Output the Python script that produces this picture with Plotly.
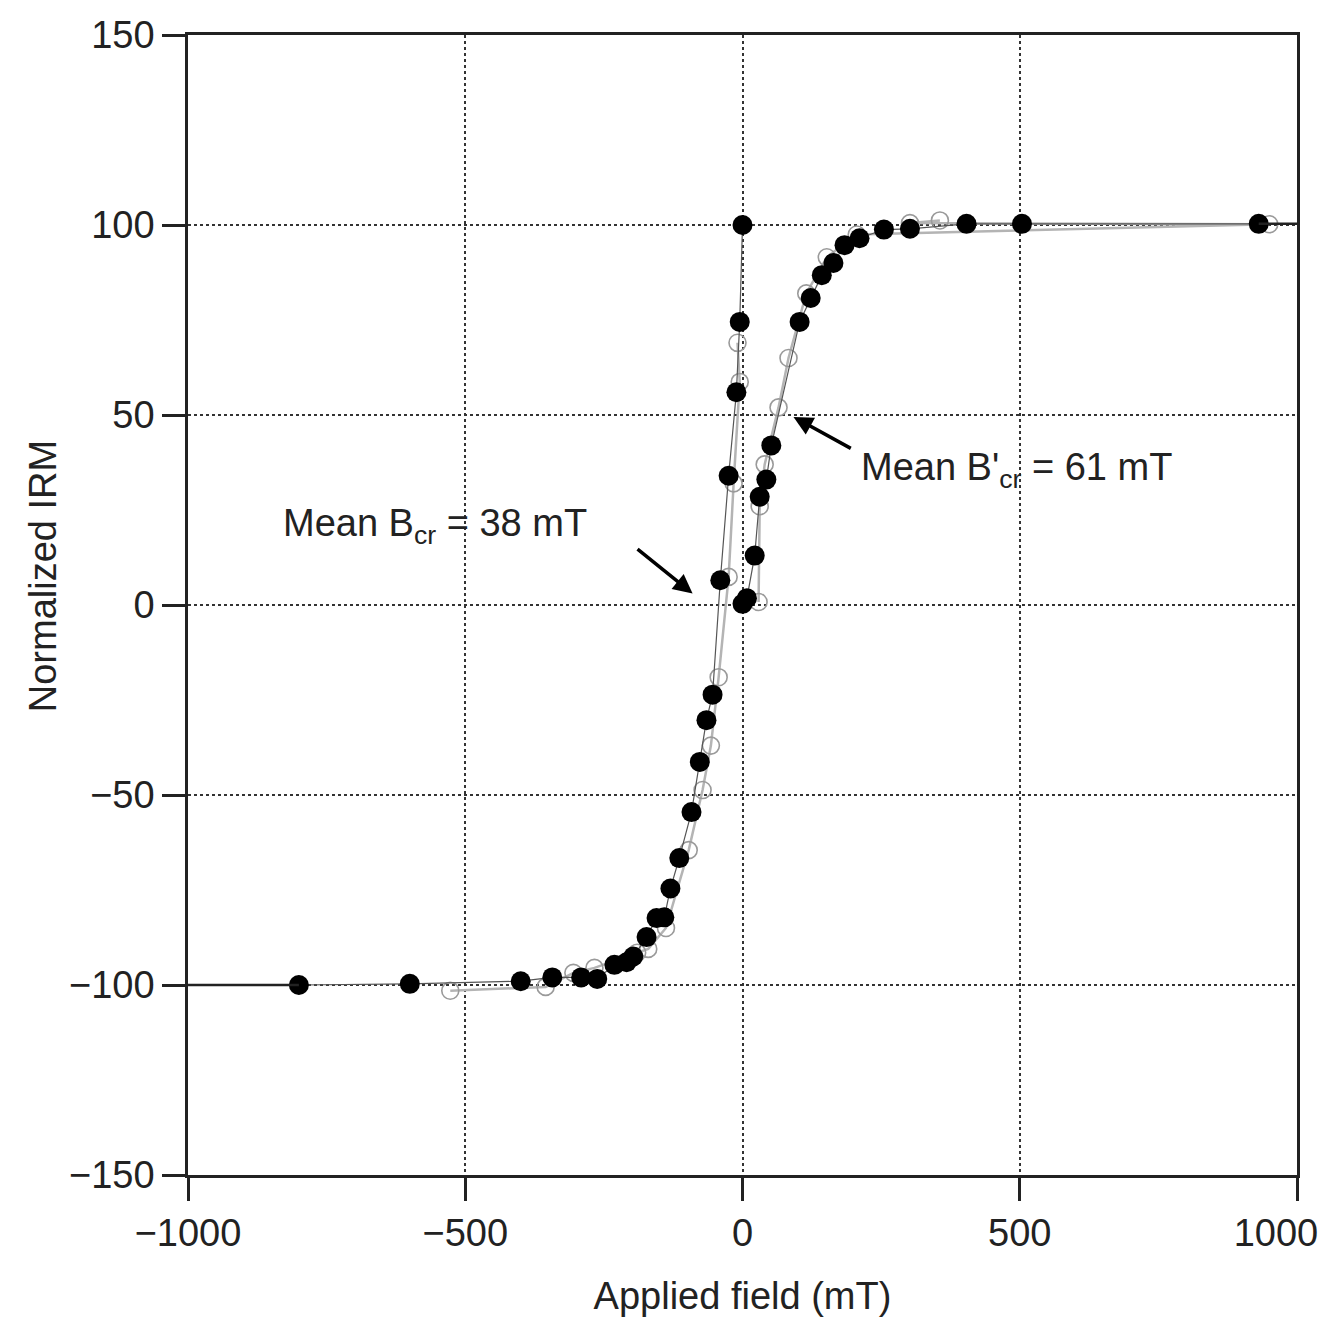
import plotly.graph_objects as go

# Backfield demagnetisation curve (left branch), solid symbols
back_solid_x = [-800, -600, -400, -343, -291, -262, -231, -209, -197, -173, -155, -141,
                -130, -114, -92, -77, -65, -54, -40, -25, -11, -5, 0]
back_solid_y = [-100, -99.7, -99, -98, -98, -98.4, -94.7, -94, -92.5, -87.4, -82.4, -82.2,
                -74.6, -66.6, -54.5, -41.3, -30.3, -23.6, 6.5, 34, 56, 74.5, 100]
# Backfield curve, open symbols
back_open_x = [-527, -355, -305, -267, -190, -170, -138, -97, -72, -57, -43, -25, -16, -5, -9]
back_open_y = [-101.5, -100.5, -96.8, -95.5, -91.5, -90.5, -85, -64.5, -48.7, -37, -19, 7.4, 32, 58.7, 69]

# IRM acquisition curve (right branch), solid symbols
acq_solid_x = [0, 8, 22, 31, 43, 52, 103, 123, 143, 164, 184, 211, 255, 302, 404, 504, 931]
acq_solid_y = [0.3, 1.8, 13, 28.5, 33, 42, 74.5, 80.8, 86.8, 90, 94.7, 96.5, 98.8, 99, 100.3, 100.3, 100.3]
# IRM acquisition curve, open symbols
acq_open_x = [29, 31, 40, 65, 83, 115, 152, 206, 302, 356, 950]
acq_open_y = [0.8, 26, 37, 52, 65, 82, 91.5, 97.5, 100.5, 101.2, 100.2]

x_range = [-1000, 1000]
y_range = [-150, 150]
x_ticks = [-1000, -500, 0, 500, 1000]
x_ticktext = ["\u22121000", "\u2212500", "0", "500", "1000\u00a0\u00a0\u00a0\u00a0"]
y_ticks = [-150, -100, -50, 0, 50, 100, 150]

FONT = "Liberation Sans, Arial, Helvetica, sans-serif"
TXT = "#222222"
GREY = "#9a9a9a"

fig = go.Figure()

# open-symbol branches with grey connecting lines (drawn underneath)
for xs, ys in [(back_open_x, back_open_y), (acq_open_x, acq_open_y)]:
    order = sorted(range(len(xs)), key=lambda i: ys[i])
    fig.add_trace(go.Scatter(
        x=[xs[i] for i in order], y=[ys[i] for i in order], mode="lines+markers",
        line=dict(color="#b4b4b4", width=2.5),
        marker=dict(size=17, color="rgba(255,255,255,0)", line=dict(color=GREY, width=1.6)),
        showlegend=False, cliponaxis=False))

# solid-symbol branches with thin dark lines
for xs, ys in [(back_solid_x, back_solid_y), (acq_solid_x, acq_solid_y)]:
    fig.add_trace(go.Scatter(
        x=xs, y=ys, mode="lines+markers",
        line=dict(color="#555555", width=1.2),
        marker=dict(size=20, color="black"),
        showlegend=False, cliponaxis=False))

# saturation levels continued to the plot edges
fig.add_trace(go.Scatter(x=[x_range[0], back_solid_x[0]], y=[back_solid_y[0]] * 2,
                         mode="lines", line=dict(color=TXT, width=2.5),
                         showlegend=False))
fig.add_trace(go.Scatter(x=[acq_solid_x[-1], x_range[1]], y=[acq_solid_y[-1]] * 2,
                         mode="lines", line=dict(color=TXT, width=2.5),
                         showlegend=False))

annotations = [
    # labels
    dict(x=-555, y=20.8, xref="x", yref="y", showarrow=False,
         text="Mean B<sub>cr</sub> = 38 mT", font=dict(size=38, color=TXT, family=FONT)),
    dict(x=495, y=35.5, xref="x", yref="y", showarrow=False,
         text="Mean B'<sub>cr</sub> = 61 mT", font=dict(size=38, color=TXT, family=FONT)),
    # arrows
    dict(x=-90, y=3, ax=-192, ay=15, xref="x", yref="y", axref="x", ayref="y",
         text="", showarrow=True, arrowhead=2, arrowsize=1.1, arrowwidth=3.5, arrowcolor="black"),
    dict(x=92, y=49.5, ax=198, ay=41, xref="x", yref="y", axref="x", ayref="y",
         text="", showarrow=True, arrowhead=2, arrowsize=1.1, arrowwidth=3.5, arrowcolor="black"),
    # y-axis title
    dict(x=-0.131, y=0.525, xref="paper", yref="paper", xanchor="center", yanchor="middle",
         showarrow=False, textangle=-90,
         text="Normalized IRM", font=dict(size=38, color=TXT, family=FONT)),
]

axis_common = dict(
    showline=True, linecolor=TXT, linewidth=2.5, mirror=True,
    ticks="outside", ticklen=23, tickwidth=2.5, tickcolor=TXT,
    showgrid=True, gridcolor="#333333", gridwidth=2, griddash="dot",
    zeroline=False, tickfont=dict(size=38, color=TXT, family=FONT),
    ticklabeloverflow="allow", automargin=False,
)

fig.update_layout(
    width=1329, height=1320,
    margin=dict(l=188, r=32, t=35, b=145, autoexpand=False),
    paper_bgcolor="white", plot_bgcolor="white",
    font=dict(family=FONT, color=TXT),
    xaxis=dict(range=x_range, tickvals=x_ticks, ticktext=x_ticktext, **axis_common,
               title=dict(text="Applied field (mT)", font=dict(size=38, family=FONT, color=TXT),
                          standoff=30)),
    yaxis=dict(range=y_range, tickvals=y_ticks, **axis_common),
    annotations=annotations,
)

fig.write_html("out.html")
